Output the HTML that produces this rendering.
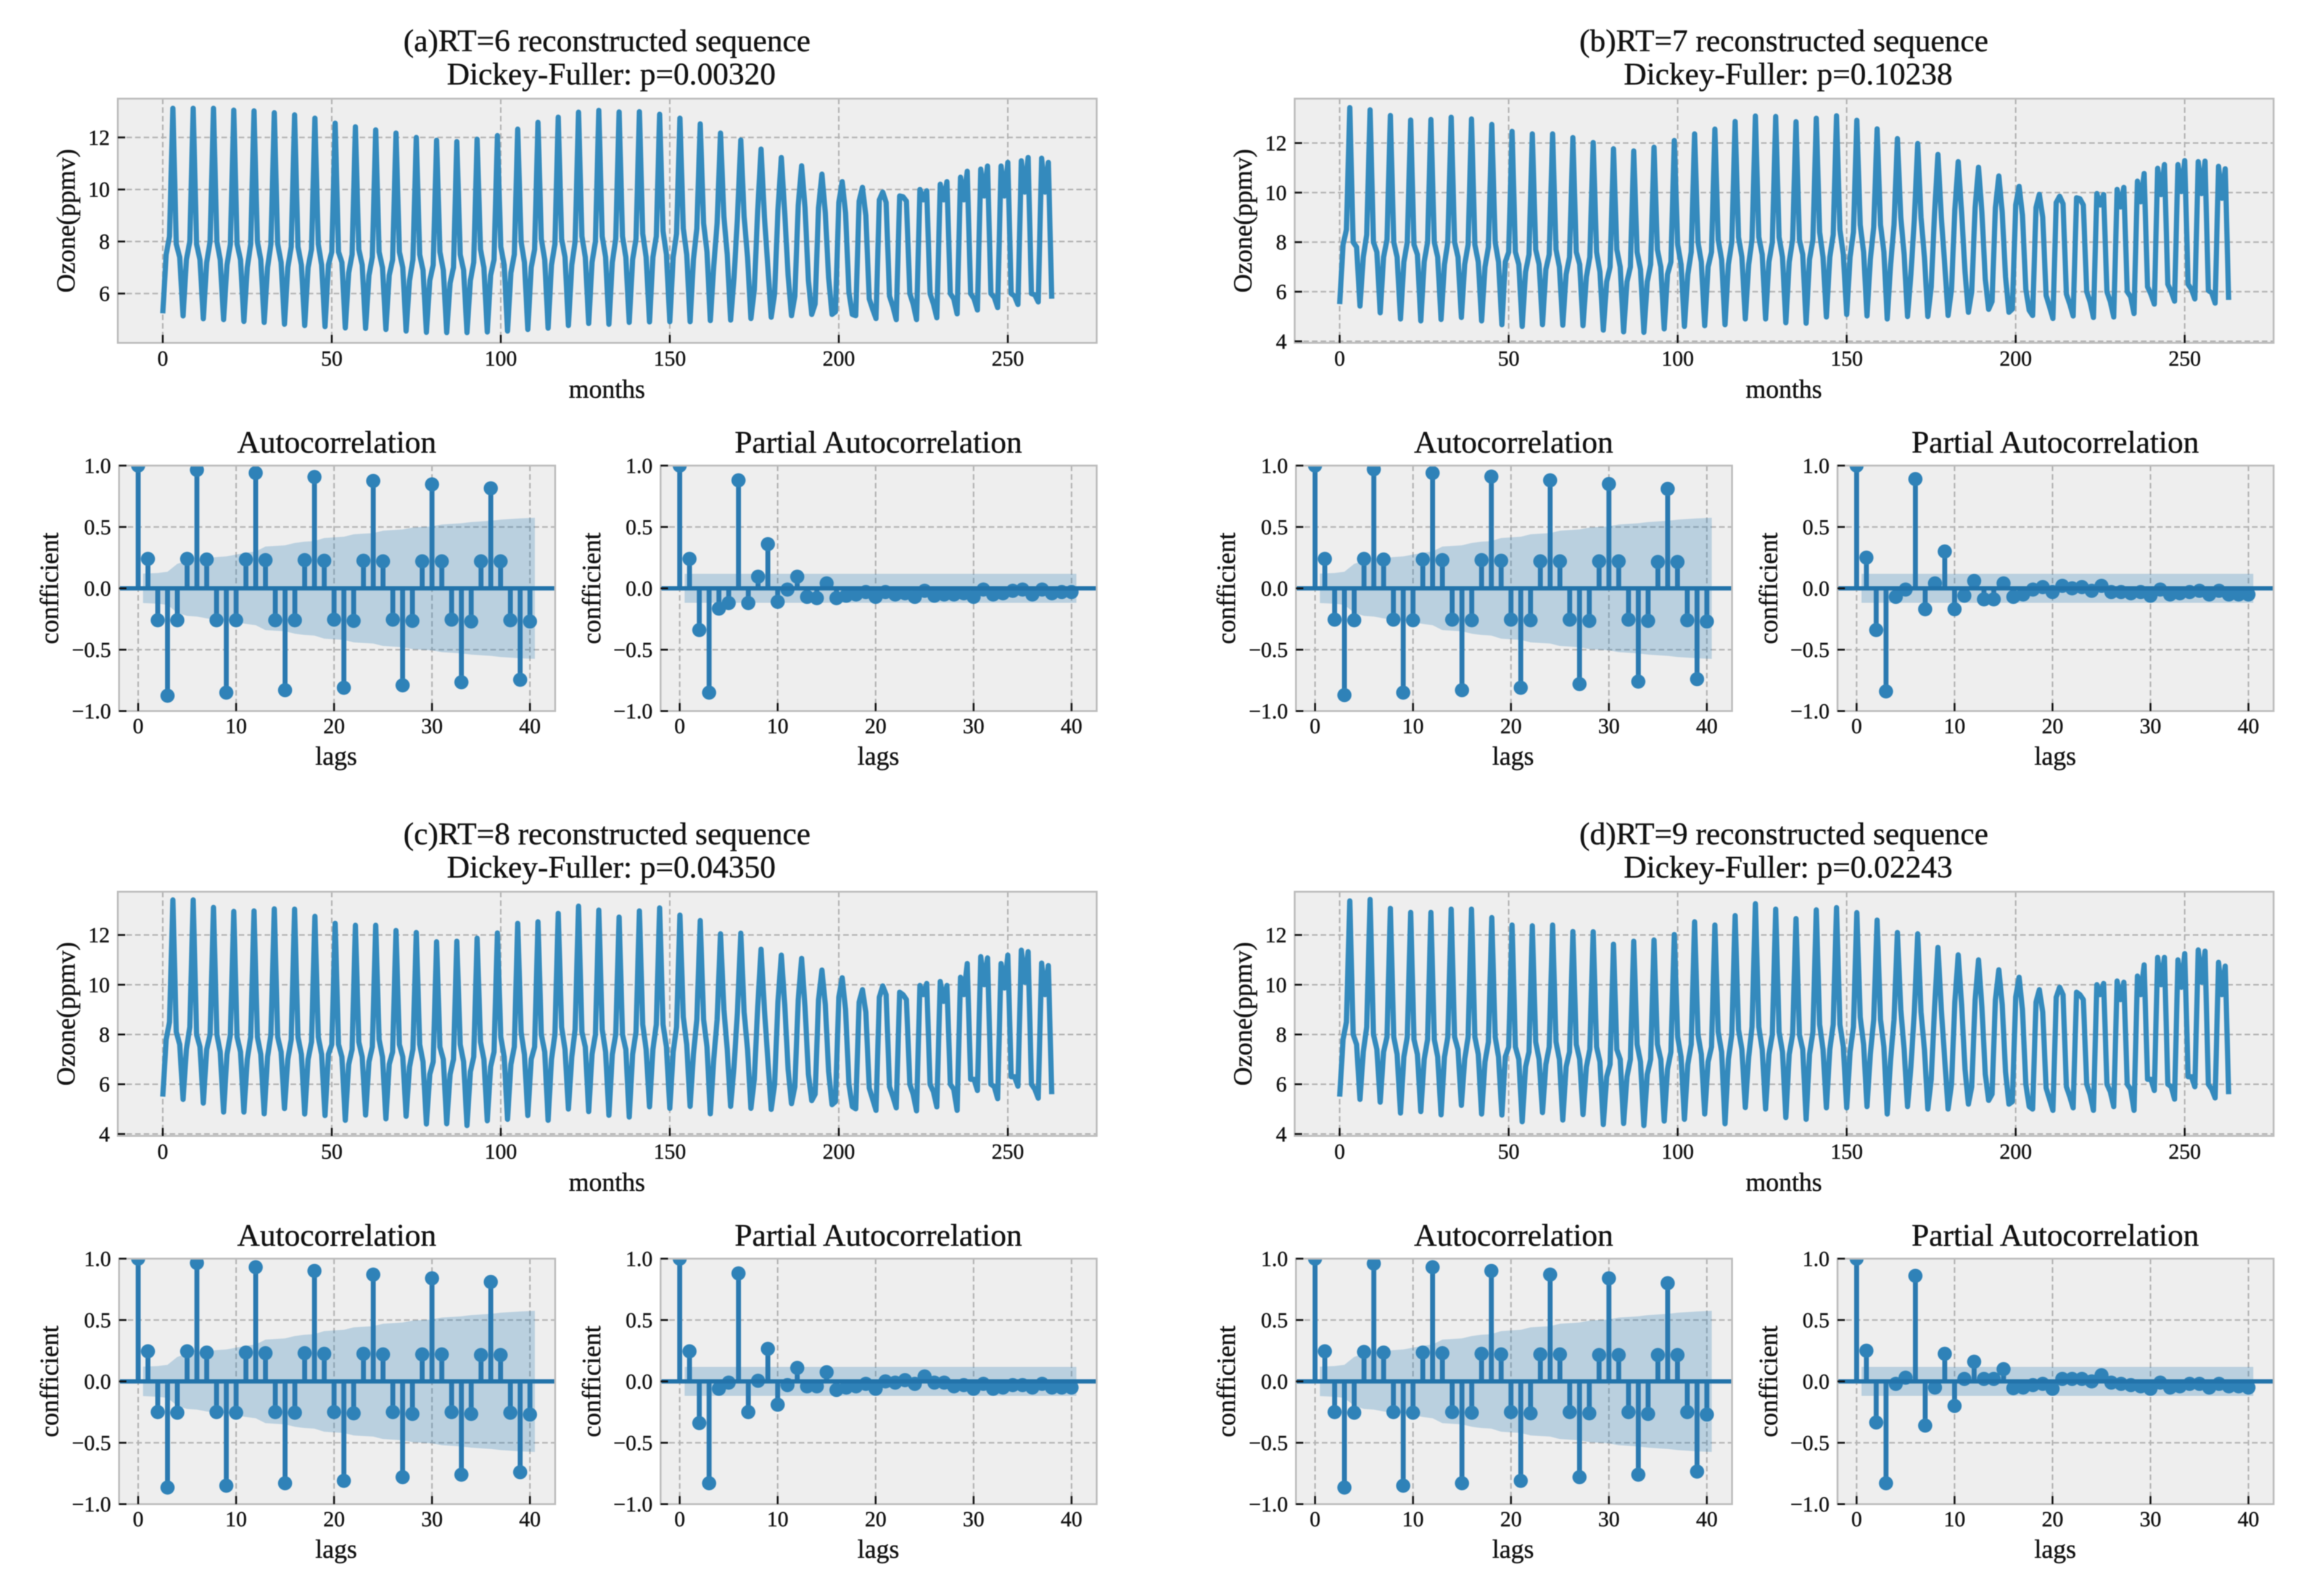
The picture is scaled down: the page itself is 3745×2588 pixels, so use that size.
<!DOCTYPE html>
<html lang="en">
<head>
<meta charset="utf-8">
<title>Reconstructed ozone sequences with autocorrelation</title>
<style>
html,body{margin:0;padding:0;background:#fff;}
svg{display:block;filter:blur(0.8px);}
text{font-family:"Liberation Serif",serif;fill:#111;stroke:#111;stroke-width:0.5px;}
.title{font-size:51px;text-anchor:middle;}
.label{font-size:42px;text-anchor:middle;}
</style>
</head>
<body>
<svg id="figure" xmlns="http://www.w3.org/2000/svg" width="3745" height="2588" viewBox="0 0 3745 2588">
<rect x="0" y="0" width="3745" height="2588" fill="#ffffff"/>

<g id="panel-a">
<text class="title" x="984" y="83">(a)RT=6 reconstructed sequence</text>
<text class="title" x="991" y="137">Dickey-Fuller: p=0.00320</text>
<text class="label" x="984" y="645">months</text>
<text class="label" transform="translate(121 358) rotate(-90)">Ozone(ppmv)</text>
<text class="title" x="546" y="734">Autocorrelation</text>
<text class="label" x="545" y="1240">lags</text>
<text class="label" transform="translate(94 954) rotate(-90)">confficient</text>
<text class="title" x="1424" y="734">Partial Autocorrelation</text>
<text class="label" x="1424" y="1240">lags</text>
<text class="label" transform="translate(973 954) rotate(-90)">confficient</text>
</g>

<g id="panel-b" transform="translate(1908 0)">
<text class="title" x="984" y="83">(b)RT=7 reconstructed sequence</text>
<text class="title" x="991" y="137">Dickey-Fuller: p=0.10238</text>
<text class="label" x="984" y="645">months</text>
<text class="label" transform="translate(121 358) rotate(-90)">Ozone(ppmv)</text>
<text class="title" x="546" y="734">Autocorrelation</text>
<text class="label" x="545" y="1240">lags</text>
<text class="label" transform="translate(94 954) rotate(-90)">confficient</text>
<text class="title" x="1424" y="734">Partial Autocorrelation</text>
<text class="label" x="1424" y="1240">lags</text>
<text class="label" transform="translate(973 954) rotate(-90)">confficient</text>
</g>

<g id="panel-c" transform="translate(0 1286)">
<text class="title" x="984" y="83">(c)RT=8 reconstructed sequence</text>
<text class="title" x="991" y="137">Dickey-Fuller: p=0.04350</text>
<text class="label" x="984" y="645">months</text>
<text class="label" transform="translate(121 358) rotate(-90)">Ozone(ppmv)</text>
<text class="title" x="546" y="734">Autocorrelation</text>
<text class="label" x="545" y="1240">lags</text>
<text class="label" transform="translate(94 954) rotate(-90)">confficient</text>
<text class="title" x="1424" y="734">Partial Autocorrelation</text>
<text class="label" x="1424" y="1240">lags</text>
<text class="label" transform="translate(973 954) rotate(-90)">confficient</text>
</g>

<g id="panel-d" transform="translate(1908 1286)">
<text class="title" x="984" y="83">(d)RT=9 reconstructed sequence</text>
<text class="title" x="991" y="137">Dickey-Fuller: p=0.02243</text>
<text class="label" x="984" y="645">months</text>
<text class="label" transform="translate(121 358) rotate(-90)">Ozone(ppmv)</text>
<text class="title" x="546" y="734">Autocorrelation</text>
<text class="label" x="545" y="1240">lags</text>
<text class="label" transform="translate(94 954) rotate(-90)">confficient</text>
<text class="title" x="1424" y="734">Partial Autocorrelation</text>
<text class="label" x="1424" y="1240">lags</text>
<text class="label" transform="translate(973 954) rotate(-90)">confficient</text>
</g>
</svg>

<script>
/* ---------- data ---------- */
const monthTicks = [0, 50, 100, 150, 200, 250];
const lagTicks = [0, 10, 20, 30, 40];
const coefTicks = [-1, -0.5, 0, 0.5, 1];
const coefTickLabels = ['\u22121.0', '\u22120.5', '0.0', '0.5', '1.0'];
const ozoneTicksA = [6, 8, 10, 12];
const ozoneTicksOther = [4, 6, 8, 10, 12];

const ozoneA = [
5.24,7.5,8.2,13.12,7.9,7.4,
5.14,7.3,8.0,13.12,7.9,7.3,
5.03,7.2,8.0,13.12,8.0,7.3,
5.0,7.1,7.9,13.05,7.9,7.3,
4.93,7.0,7.9,13.02,8.0,7.3,
4.89,7.0,7.9,12.95,7.9,7.2,
4.82,7.0,7.8,12.87,7.8,7.1,
4.77,7.0,7.7,12.74,7.9,7.1,
4.73,7.1,7.6,12.55,7.6,7.2,
4.68,6.8,7.5,12.41,7.7,7.1,
4.66,6.7,7.4,12.29,7.6,7.0,
4.62,6.7,7.3,12.17,7.6,7.0,
4.56,6.5,7.3,12.0,7.5,6.9,
4.51,6.5,7.1,11.89,7.6,6.9,
4.5,6.4,7.0,11.84,7.5,6.9,
4.5,6.5,7.2,11.93,7.7,7.0,
4.52,6.7,7.3,12.07,7.8,7.1,
4.56,6.8,7.5,12.32,8.0,7.2,
4.62,7.0,7.7,12.58,8.1,7.3,
4.67,7.1,7.9,12.78,8.1,7.4,
4.77,7.1,8.0,12.97,8.2,7.4,
4.85,7.2,8.0,13.04,8.2,7.4,
4.82,7.2,8.1,12.98,8.2,7.4,
4.89,7.3,8.1,12.99,8.3,7.4,
4.91,7.4,8.2,12.89,8.4,7.5,
4.92,7.4,8.3,12.74,8.5,7.5,
4.92,7.3,8.5,12.52,8.7,7.6,
4.96,7.05,8.7,12.17,8.95,7.5,
4.98,6.6,8.9,11.9,8.95,7.4,
5.04,6.15,9.2,11.55,8.95,7.05,
5.09,6.0,9.2,11.23,9.1,6.7,
5.15,5.9,9.4,10.91,9.3,6.5,
5.2,5.6,9.3,10.59,9.1,6.6,
5.2,5.3,9.5,10.3,9.1,6.05,
5.2,5.15,9.55,10.08,9.0,5.8,
5.4,5.04,9.6,9.9,9.5,5.9,
5.5,5.0,9.75,9.72,9.55,6.0,
5.6,5.0,10.0,9.6,9.95,6.0,
5.6,5.07,10.2,9.6,10.3,6.0,
5.8,5.22,10.47,9.6,10.7,6.0,
5.8,5.37,10.78,9.75,10.9,6.0,
5.85,5.46,10.9,9.75,11.04,6.0,
5.9,5.58,11.1,9.9,11.23,6.0,
5.95,5.68,11.2,9.9,11.04,5.8];

const ozoneB = [
5.5,7.9,8.5,13.43,8.0,7.8,
5.42,7.4,8.3,13.34,8.0,7.6,
5.15,7.4,8.1,13.11,8.0,7.4,
4.9,7.2,8.0,12.93,7.9,7.5,
4.82,7.2,8.0,12.95,8.0,7.4,
4.88,7.1,8.0,13.04,8.0,7.4,
4.96,7.1,7.9,12.97,7.9,7.2,
4.82,7.0,7.8,12.75,8.0,7.2,
4.67,7.2,7.6,12.47,7.6,7.1,
4.6,6.8,7.5,12.37,7.7,7.1,
4.67,6.9,7.5,12.37,7.7,7.0,
4.65,6.7,7.4,12.22,7.6,7.1,
4.63,6.6,7.4,12.02,7.6,6.8,
4.45,6.4,7.0,11.77,7.7,7.0,
4.38,6.4,7.0,11.68,7.6,6.9,
4.36,6.4,7.1,11.83,7.7,7.0,
4.5,6.7,7.2,12.1,7.9,7.1,
4.6,6.7,7.6,12.37,8.0,7.2,
4.63,7.0,7.6,12.56,8.1,7.3,
4.67,7.1,8.0,12.87,8.2,7.4,
4.9,7.1,8.1,13.09,8.2,7.5,
4.9,7.2,8.0,13.07,8.2,7.4,
4.75,7.2,8.1,12.86,8.1,7.5,
4.73,7.3,8.1,13.0,8.4,7.4,
4.98,7.4,8.3,13.1,8.5,7.5,
5.08,7.4,8.4,12.92,8.7,7.6,
5.02,7.3,8.6,12.57,8.7,7.6,
4.9,7.1,8.7,12.18,9.0,7.5,
5.0,6.7,8.9,11.98,9.0,7.4,
5.0,6.2,9.2,11.54,9.0,7.1,
5.04,6.1,9.3,11.25,9.2,6.8,
5.17,6.0,9.4,11.02,9.2,6.5,
5.29,5.6,9.4,10.67,9.2,6.6,
5.17,5.3,9.5,10.25,9.1,6.1,
5.25,5.04,9.4,9.93,9.0,5.85,
5.4,4.92,9.6,9.85,9.55,5.9,
5.5,5.02,9.79,9.75,9.5,6.0,
5.6,4.96,9.96,9.5,9.92,6.0,
5.6,4.98,10.13,9.42,10.21,6.0,
5.8,5.12,10.46,9.63,10.77,6.2,
5.9,5.5,10.98,9.92,11.13,6.3,
6.0,5.62,11.13,10.04,11.29,6.3,
6.1,5.71,11.25,9.96,11.27,6.05,
5.95,5.54,11.06,9.77,10.96,5.67];

const ozoneC = [
5.5,7.8,8.5,13.41,8.1,7.6,
5.39,7.4,8.3,13.41,8.0,7.5,
5.24,7.4,8.0,13.11,8.0,7.3,
4.88,7.2,8.0,12.95,7.9,7.3,
4.88,7.0,7.9,12.97,7.9,7.2,
4.81,7.1,8.0,13.05,7.9,7.3,
5.02,7.0,7.8,13.04,7.9,7.2,
4.8,7.0,7.7,12.75,7.9,7.2,
4.74,7.2,7.6,12.47,7.6,7.1,
4.55,6.8,7.4,12.39,7.7,7.1,
4.76,6.9,7.5,12.39,7.8,7.1,
4.61,6.8,7.3,12.18,7.6,7.1,
4.71,6.7,7.4,12.1,7.6,6.9,
4.4,6.4,6.9,11.73,7.5,7.0,
4.41,6.4,7.0,11.75,7.6,6.9,
4.34,6.5,7.1,11.87,7.7,7.0,
4.53,6.7,7.3,12.08,7.9,7.1,
4.59,6.8,7.5,12.47,8.1,7.2,
4.74,7.0,7.5,12.53,8.0,7.3,
4.55,7.0,8.0,12.87,8.3,7.4,
5.0,7.1,8.2,13.16,8.1,7.5,
4.9,7.2,8.0,13.0,8.2,7.3,
4.75,7.2,8.0,12.72,8.0,7.4,
4.68,7.2,8.1,12.97,8.4,7.4,
5.09,7.4,8.4,13.09,8.4,7.5,
5.03,7.3,8.3,12.8,8.7,7.6,
5.11,7.2,8.6,12.58,8.6,7.5,
4.81,7.0,8.6,12.05,9.0,7.4,
5.11,6.7,8.9,12.07,8.9,7.4,
5.03,6.2,9.1,11.43,9.0,7.0,
4.99,6.0,9.3,11.19,9.2,6.6,
5.22,5.9,9.4,11.06,9.1,6.4,
5.34,5.6,9.4,10.59,9.2,6.5,
5.18,5.3,9.5,10.28,9.0,6.0,
5.1,5.01,9.3,9.8,8.9,5.85,
5.4,4.95,9.5,9.95,9.6,5.9,
5.5,5.05,9.7,9.6,9.4,6.0,
5.6,4.93,9.97,9.6,10.05,6.0,
5.7,5.09,10.13,9.33,9.97,6.0,
5.8,4.95,10.3,9.6,10.85,6.2,
6.2,5.75,11.13,10.0,11.08,6.0,
5.9,5.42,10.85,9.87,11.19,6.3,
6.3,5.92,11.39,10.1,11.33,6.0,
5.8,5.44,10.87,9.6,10.77,5.6];

const ozoneD = [
5.5,7.8,8.5,13.37,8.0,7.6,
5.39,7.3,8.3,13.43,8.0,7.4,
5.28,7.3,7.9,13.07,7.9,7.2,
4.84,7.1,7.9,12.91,7.8,7.2,
4.9,7.0,7.8,12.91,7.8,7.1,
4.77,7.1,7.9,13.04,7.9,7.4,
5.15,7.0,7.9,13.04,7.9,7.2,
4.8,6.9,7.7,12.7,7.9,7.1,
4.76,7.1,7.5,12.4,7.5,7.0,
4.49,6.7,7.3,12.37,7.7,7.0,
4.86,6.8,7.5,12.4,7.7,7.0,
4.56,6.7,7.3,12.14,7.6,7.0,
4.78,6.7,7.4,12.13,7.5,6.9,
4.38,6.3,6.8,11.63,7.4,7.0,
4.42,6.3,7.0,11.75,7.6,6.9,
4.34,6.4,7.0,11.8,7.6,7.0,
4.52,6.6,7.3,12.02,7.9,7.1,
4.59,6.8,7.6,12.53,8.0,7.2,
4.8,6.9,7.5,12.4,8.1,7.3,
4.41,7.0,8.0,12.78,8.2,7.4,
5.06,7.1,8.3,13.26,8.3,7.4,
5.0,7.2,8.0,13.04,8.1,7.3,
4.66,7.2,8.0,12.66,8.0,7.4,
4.59,7.2,8.1,13.01,8.4,7.4,
5.05,7.4,8.4,13.1,8.4,7.5,
5.05,7.3,8.3,12.9,8.7,7.6,
5.1,7.2,8.6,12.6,8.6,7.5,
4.8,7.0,8.6,12.1,9.0,7.4,
5.1,6.7,8.9,12.05,8.9,7.4,
5.0,6.2,9.1,11.5,9.0,7.0,
5.0,6.0,9.3,11.2,9.2,6.6,
5.2,5.9,9.4,11.0,9.1,6.4,
5.35,5.6,9.4,10.6,9.2,6.5,
5.2,5.3,9.5,10.3,9.0,6.0,
5.1,5.0,9.3,9.8,8.9,5.85,
5.4,4.95,9.5,9.9,9.6,5.9,
5.5,5.05,9.7,9.6,9.4,6.0,
5.6,4.95,10.0,9.6,10.05,6.0,
5.7,5.1,10.15,9.4,10.1,6.0,
5.8,4.95,10.35,9.6,10.8,6.2,
6.2,5.75,11.1,10.0,11.1,6.0,
5.9,5.4,11.0,9.9,11.25,6.3,
6.3,5.9,11.4,10.1,11.35,6.0,
5.8,5.45,10.9,9.6,10.75,5.6];

const acfA = [1,.24,-.26,-.875,-.26,.24,.965,.235,-.26,-.85,-.26,.235,.94,.23,-.26,-.83,-.26,.23,.907,.225,-.255,-.81,-.265,.225,.875,.22,-.255,-.79,-.265,.22,.847,.22,-.255,-.765,-.27,.22,.815,.22,-.26,-.745,-.27];
const acfB = [1,.24,-.255,-.87,-.26,.24,.97,.235,-.255,-.85,-.26,.235,.94,.23,-.255,-.83,-.26,.23,.91,.225,-.255,-.81,-.26,.22,.88,.22,-.255,-.78,-.265,.22,.85,.22,-.255,-.76,-.265,.215,.81,.215,-.26,-.74,-.27];
const acfC = [1,.245,-.25,-.865,-.255,.245,.965,.235,-.25,-.85,-.255,.235,.93,.23,-.25,-.83,-.255,.23,.90,.225,-.25,-.81,-.26,.225,.87,.22,-.25,-.78,-.265,.22,.84,.22,-.25,-.76,-.265,.215,.81,.215,-.255,-.74,-.27];
const acfD = [1,.245,-.25,-.865,-.255,.24,.96,.235,-.25,-.85,-.255,.235,.93,.23,-.25,-.83,-.255,.225,.90,.22,-.25,-.81,-.26,.22,.87,.22,-.25,-.78,-.26,.215,.84,.215,-.25,-.76,-.265,.215,.80,.215,-.25,-.735,-.27];

const pacfA = [1,.24,-.34,-.85,-.165,-.12,.88,-.12,.095,.36,-.11,-.01,.095,-.07,-.08,.04,-.08,-.06,-.05,-.03,-.07,-.03,-.05,-.04,-.07,-.02,-.06,-.05,-.05,-.04,-.07,-.01,-.05,-.04,-.02,-.01,-.05,-.01,-.04,-.03,-.03];
const pacfB = [1,.25,-.34,-.84,-.07,-.01,.89,-.17,.04,.30,-.17,-.06,.06,-.09,-.09,.04,-.07,-.05,-.01,.01,-.03,.02,0,.01,-.02,.02,-.03,-.03,-.04,-.03,-.06,-.01,-.05,-.04,-.03,-.02,-.05,-.02,-.05,-.05,-.05];
const pacfC = [1,.245,-.34,-.83,-.06,-.01,.88,-.25,.005,.265,-.19,-.03,.11,-.04,-.04,.075,-.07,-.05,-.04,-.02,-.06,0,-.01,.01,-.02,.04,-.01,-.01,-.04,-.03,-.06,-.02,-.06,-.05,-.03,-.03,-.05,-.02,-.05,-.05,-.05];
const pacfD = [1,.25,-.335,-.83,-.02,.03,.86,-.36,-.05,.225,-.20,.02,.16,.02,.02,.10,-.055,-.05,-.03,-.02,-.06,.02,.02,.02,0,.05,-.01,-.02,-.03,-.04,-.06,-.01,-.05,-.04,-.02,-.02,-.05,-.02,-.04,-.04,-.05];

const acfBand = [.12,.125,.135,.20,.225,.23,.245,.255,.26,.275,.29,.30,.34,.345,.35,.37,.38,.385,.41,.415,.42,.44,.445,.45,.47,.475,.48,.495,.50,.505,.52,.525,.53,.54,.545,.55,.56,.565,.57,.575];
const pacfBand = [.118];

/* ---------- layout ---------- */
const NS = 'http://www.w3.org/2000/svg';
const OZ_BOX = {l:191, r:1778, t:160, b:556};
const ACF_BOX = {l:193, r:900, t:755, b:1153};
const PACF_BOX = {l:1071, r:1778, t:755, b:1153};
const OZ_XLIM = [-13.3, 276.3];
const LAG_XLIM = [-1.95, 42.57];
const COEF_YLIM = [-1, 1];

function mk(tag, parent, attrs) {
  const e = document.createElementNS(NS, tag);
  for (const k in attrs) e.setAttribute(k, attrs[k]);
  parent.appendChild(e);
  return e;
}
function scale(d0, d1, p0, p1) {
  return function (v) { return p0 + (v - d0) * (p1 - p0) / (d1 - d0); };
}

function drawAxes(root, id, box, xs, ys, xTicks, yTicks) {
  const bg = mk('rect', root, {x:box.l, y:box.t, width:box.r-box.l, height:box.b-box.t, fill:'#eeeeee'});
  
  
  xTicks.forEach(function (t) {
    const g = mk('line', root, {x1:xs(t), x2:xs(t), y1:box.t, y2:box.b, stroke:'#b2b2b2', 'stroke-width':2.5, 'stroke-dasharray':'9 5'});
    
    
  });
  yTicks.forEach(function (t) {
    const g = mk('line', root, {x1:box.l, x2:box.r, y1:ys(t), y2:ys(t), stroke:'#b2b2b2', 'stroke-width':2.5, 'stroke-dasharray':'9 5'});
    
    
  });
  const cp = mk('clipPath', root, {id:'clip-' + id});
  mk('rect', cp, {x:box.l, y:box.t, width:box.r-box.l, height:box.b-box.t});
  const marks = mk('g', root, {'clip-path':'url(#clip-' + id + ')'});
  
  
  return marks;
}

function drawDecor(root, id, box, xs, ys, xTicks, yTicks, yLabels, xLabelY) {
  const frame = mk('rect', root, {x:box.l, y:box.t, width:box.r-box.l, height:box.b-box.t, fill:'none', stroke:'#bcbcbc', 'stroke-width':3});
  
  
  xTicks.forEach(function (t) {
    const tk = mk('line', root, {x1:xs(t), x2:xs(t), y1:box.b-13, y2:box.b, stroke:'#111', 'stroke-width':3});
    
    
    const lb = mk('text', root, {x:xs(t), y:xLabelY, 'font-size':35, 'text-anchor':'middle'});
    lb.textContent = String(t);
    
    
  });
  yTicks.forEach(function (t, i) {
    const tk = mk('line', root, {x1:box.l, x2:box.l+12, y1:ys(t), y2:ys(t), stroke:'#111', 'stroke-width':3});
    
    
    const lb = mk('text', root, {x:box.l-13, y:ys(t)+12, 'font-size':35, 'text-anchor':'end'});
    lb.textContent = yLabels[i];
    
    
  });
}

function drawOzone(root, id, values, ylim, yTicks) {
  const xs = scale(OZ_XLIM[0], OZ_XLIM[1], OZ_BOX.l, OZ_BOX.r);
  const ys = scale(ylim[0], ylim[1], OZ_BOX.b, OZ_BOX.t);
  const marks = drawAxes(root, id, OZ_BOX, xs, ys, monthTicks, yTicks);
  const pts = values.map(function (v, i) { return xs(i).toFixed(1) + ',' + ys(v).toFixed(1); }).join(' ');
  const line = mk('polyline', marks, {points:pts, fill:'none', stroke:'#348abd', 'stroke-width':8.5, 'stroke-linejoin':'round'});
  
  
  drawDecor(root, id, OZ_BOX, xs, ys, monthTicks, yTicks, yTicks.map(String), 593);
}

function drawStem(root, id, box, values, band) {
  const xs = scale(LAG_XLIM[0], LAG_XLIM[1], box.l, box.r);
  const ys = scale(COEF_YLIM[0], COEF_YLIM[1], box.b, box.t);
  const marks = drawAxes(root, id, box, xs, ys, lagTicks, coefTicks);
  const last = values.length - 1;
  const upper = [], lower = [];
  for (let lag = 1; lag <= last; lag++) {
    const half = band.length > 1 ? band[lag - 1] : band[0];
    const lx = lag === 1 ? 0.5 : (lag === last ? last + 0.5 : lag);
    upper.push(xs(lx).toFixed(1) + ',' + ys(half).toFixed(1));
    lower.unshift(xs(lx).toFixed(1) + ',' + ys(-half).toFixed(1));
  }
  const poly = mk('polygon', marks, {points:upper.concat(lower).join(' '), fill:'#1f77b4', 'fill-opacity':0.25});
  
  
  values.forEach(function (v, lag) {
    const s = mk('line', marks, {x1:xs(lag), x2:xs(lag), y1:ys(0), y2:ys(v), stroke:'#2a79b0', 'stroke-width':8});
    
    
  });
  values.forEach(function (v, lag) {
    const c = mk('ellipse', marks, {cx:xs(lag), cy:ys(v), rx:11.5, ry:11.5, fill:'#2f82b8'});
    
    
  });
  const zero = mk('line', marks, {x1:box.l, x2:box.r, y1:ys(0), y2:ys(0), stroke:'#2273aa', 'stroke-width':7});
  
  
  drawDecor(root, id, box, xs, ys, lagTicks, coefTicks, coefTickLabels, 1189);
}

function drawPanel(key, ozone, ylim, yTicks, acf, pacf) {
  const root = document.getElementById('panel-' + key);
  drawOzone(root, 'ozone-' + key, ozone, ylim, yTicks);
  drawStem(root, 'acf-' + key, ACF_BOX, acf, acfBand);
  drawStem(root, 'pacf-' + key, PACF_BOX, pacf, pacfBand);
}

drawPanel('a', ozoneA, [4.104, 13.49], ozoneTicksA, acfA, pacfA);
drawPanel('b', ozoneB, [3.935, 13.79], ozoneTicksOther, acfB, pacfB);
drawPanel('c', ozoneC, [3.92, 13.74], ozoneTicksOther, acfC, pacfC);
drawPanel('d', ozoneD, [3.92, 13.74], ozoneTicksOther, acfD, pacfD);
</script>
</body>
</html>
